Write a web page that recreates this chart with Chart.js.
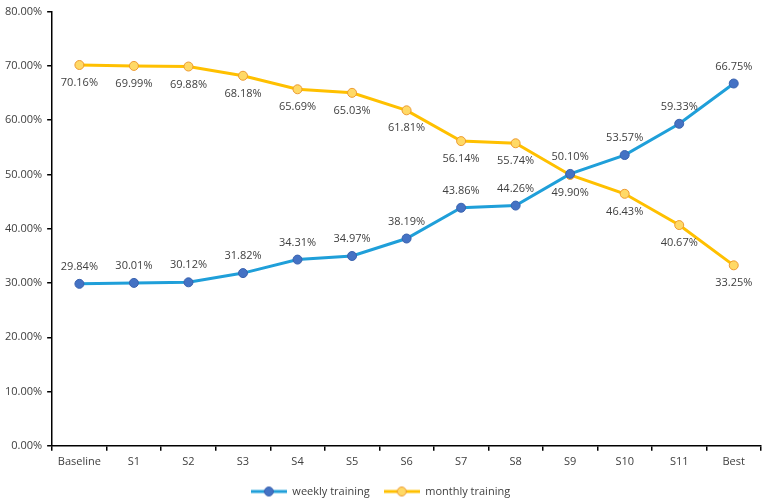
<!DOCTYPE html>
<html>
<head>
<meta charset="utf-8">
<script src="https://cdn.jsdelivr.net/npm/chart.js@4"></script>
<style>
  html, body { margin: 0; padding: 0; background: #fff; }
  #wrap { width: 767px; height: 503px; position: relative; }
</style>
</head>
<body>
<div id="wrap"><canvas id="chart"></canvas></div>
<script>
const categories = ['Baseline', 'S1', 'S2', 'S3', 'S4', 'S5', 'S6', 'S7', 'S8', 'S9', 'S10', 'S11', 'Best'];
const weekly = [29.84, 30.01, 30.12, 31.82, 34.31, 34.97, 38.19, 43.86, 44.26, 50.10, 53.57, 59.33, 66.75];
const monthly = [70.16, 69.99, 69.88, 68.18, 65.69, 65.03, 61.81, 56.14, 55.74, 49.90, 46.43, 40.67, 33.25];
const yTicks = [0, 10, 20, 30, 40, 50, 60, 70, 80];

const FONT = '"Open Sans", Lato, sans-serif';
const TXT = '#404040';

// legend icon: short line with a circle
function legendIcon(lineColor, fill, border) {
    const c = document.createElement('canvas');
    c.width = 36; c.height = 12;
    const g = c.getContext('2d');
    g.strokeStyle = lineColor;
    g.lineWidth = 3;
    g.beginPath(); g.moveTo(0, 6); g.lineTo(36, 6); g.stroke();
    g.fillStyle = fill;
    g.strokeStyle = border;
    g.lineWidth = 1;
    g.beginPath(); g.arc(18, 6, 4.5, 0, Math.PI * 2); g.fill(); g.stroke();
    return c;
}

// value labels: weekly above, monthly below
const valueLabels = {
    id: 'valueLabels',
    afterDatasetsDraw(chart) {
        const ctx = chart.ctx;
        ctx.save();
        ctx.font = '11px ' + FONT;
        ctx.fillStyle = TXT;
        ctx.textAlign = 'center';
        ctx.textBaseline = 'middle';
        chart.data.datasets.forEach((ds, i) => {
            const meta = chart.getDatasetMeta(i);
            meta.data.forEach((pt, j) => {
                const dy = i === 0 ? -17 : 18;
                ctx.fillText(ds.data[j].toFixed(2) + '%', pt.x, pt.y + dy);
            });
        });
        ctx.restore();
    }
};

new Chart(document.getElementById('chart'), {
    type: 'line',
    data: {
        labels: categories,
        datasets: [
            {
                label: 'weekly training',
                data: weekly,
                borderColor: '#1F9FD9',
                backgroundColor: '#4472C4',
                pointBackgroundColor: '#4472C4',
                pointBorderColor: '#3A62AE',
                pointBorderWidth: 1,
                pointRadius: 4.5,
                borderWidth: 3,
                tension: 0
            },
            {
                label: 'monthly training',
                data: monthly,
                borderColor: '#FFC000',
                backgroundColor: '#FFD966',
                pointBackgroundColor: '#FFD966',
                pointBorderColor: '#ED9A31',
                pointBorderWidth: 1,
                pointRadius: 4.5,
                borderWidth: 3,
                tension: 0
            }
        ]
    },
    options: {
        responsive: true,
        maintainAspectRatio: false,
        animation: false,
        layout: { padding: { left: 0, right: 6, top: 1, bottom: -4 } },
        plugins: {
            tooltip: { enabled: false },
            legend: {
                position: 'bottom',
                labels: {
                    usePointStyle: true,
                    pointStyleWidth: 36,
                    boxHeight: 12,
                    color: TXT,
                    font: { family: FONT, size: 11 },
                    padding: 14,
                    generateLabels(chart) {
                        const icons = [
                            legendIcon('#1F9FD9', '#4472C4', '#3A62AE'),
                            legendIcon('#FFC000', '#FFD966', '#ED9A31')
                        ];
                        return chart.data.datasets.map((ds, i) => ({
                            text: ds.label,
                            pointStyle: icons[i],
                            fontColor: TXT,
                            datasetIndex: i,
                            hidden: false,
                            lineWidth: 0
                        }));
                    }
                }
            }
        },
        scales: {
            x: {
                offset: true,
                grid: {
                    offset: true,
                    drawOnChartArea: false,
                    drawTicks: true,
                    tickLength: 5,
                    color: '#000',
                    lineWidth: 1.5
                },
                border: { color: '#000', width: 1.5 },
                ticks: {
                    color: TXT,
                    font: { family: FONT, size: 11 },
                    padding: 4,
                    maxRotation: 0
                }
            },
            y: {
                min: 0,
                max: 80,
                afterBuildTicks(scale) {
                    scale.ticks = yTicks.map(v => ({ value: v }));
                },
                grid: {
                    drawOnChartArea: false,
                    drawTicks: true,
                    tickLength: 5,
                    color: '#000',
                    lineWidth: 1.5
                },
                border: { color: '#000', width: 1.5 },
                ticks: {
                    color: TXT,
                    font: { family: FONT, size: 11 },
                    padding: 5,
                    callback: v => v.toFixed(2) + '%'
                }
            }
        }
    },
    plugins: [valueLabels]
});
</script>
</body>
</html>
